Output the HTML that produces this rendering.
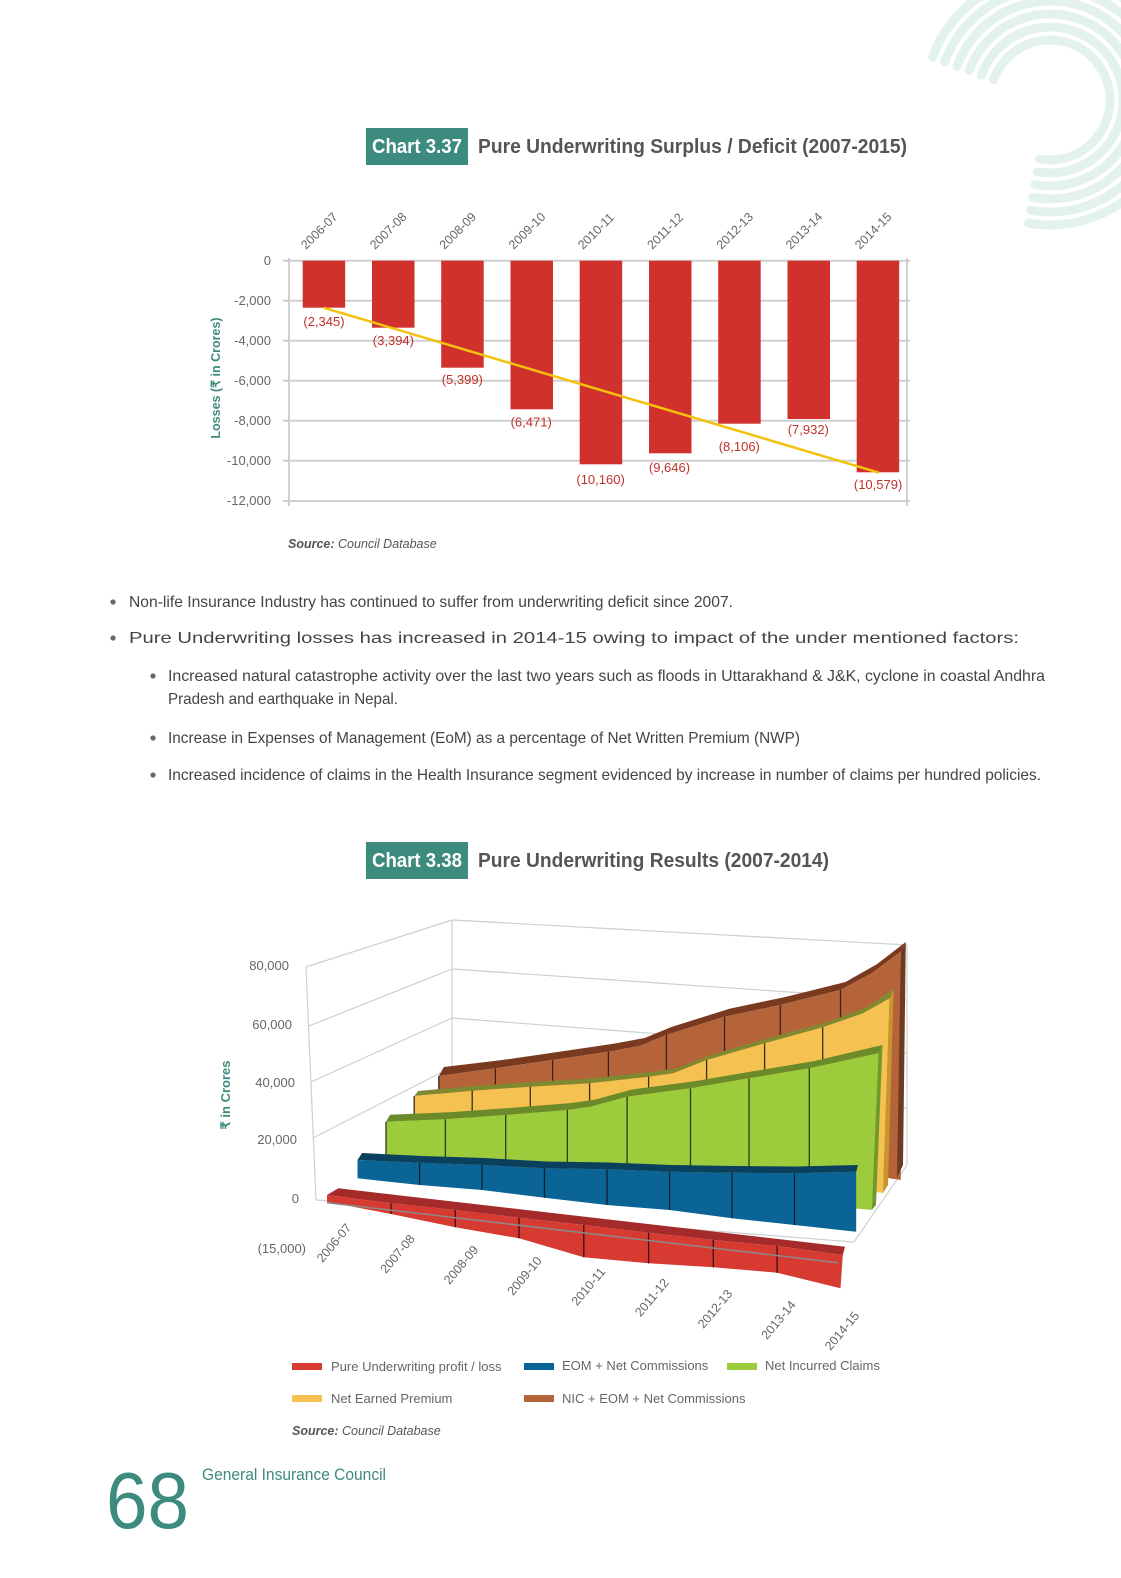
<!DOCTYPE html>
<html><head><meta charset="utf-8"><style>
html,body{margin:0;padding:0;background:#fff;}
svg{display:block;}
text{font-family:"Liberation Sans Narrow","Liberation Sans",sans-serif;}
</style></head><body>
<svg width="1121" height="1578" viewBox="0 0 1121 1578" xmlns="http://www.w3.org/2000/svg">
<g fill="none" stroke="#e4f2ec" stroke-width="9" stroke-linecap="round">
<path d="M 993.6 79.5 A 60 60 0 1 1 1039.6 159.1"/>
<path d="M 981.4 75.1 A 73 73 0 1 1 1037.3 171.9"/>
<path d="M 969.2 70.6 A 86 86 0 1 1 1035.1 184.7"/>
<path d="M 957.0 66.2 A 99 99 0 1 1 1032.8 197.5"/>
<path d="M 944.8 61.8 A 112 112 0 1 1 1030.6 210.3"/>
<path d="M 932.5 57.3 A 125 125 0 1 1 1028.3 223.1"/>
</g>

<rect x="366" y="128" width="102" height="37" fill="#3d8a7e"/>
<text x="417" y="153" text-anchor="middle" font-size="20" font-weight="bold" fill="#fff" textLength="90" lengthAdjust="spacingAndGlyphs">Chart 3.37</text>
<text x="478" y="153" font-size="20" font-weight="bold" fill="#555" textLength="429" lengthAdjust="spacingAndGlyphs">Pure Underwriting Surplus / Deficit (2007-2015)</text>

<g stroke="#cfcfcf" stroke-width="2">
<line x1="283" y1="260.7" x2="910" y2="260.7"/>
<line x1="283" y1="300.7" x2="910" y2="300.7"/>
<line x1="283" y1="340.7" x2="910" y2="340.7"/>
<line x1="283" y1="380.7" x2="910" y2="380.7"/>
<line x1="283" y1="420.7" x2="910" y2="420.7"/>
<line x1="283" y1="460.7" x2="910" y2="460.7"/>
<line x1="283" y1="501" x2="910" y2="501"/>
<line x1="289" y1="258" x2="289" y2="506"/>
<line x1="907" y1="258" x2="907" y2="506"/>
</g>
<g font-size="13" fill="#666" text-anchor="end">
<text x="271" y="265">0</text>
<text x="271" y="305">-2,000</text>
<text x="271" y="345">-4,000</text>
<text x="271" y="385">-6,000</text>
<text x="271" y="425">-8,000</text>
<text x="271" y="465">-10,000</text>
<text x="271" y="505">-12,000</text>
</g>
<text transform="translate(220,378) rotate(-90)" text-anchor="middle" font-size="12.5" font-weight="bold" fill="#3d8a7e">Losses (₹ in Crores)</text>
<g fill="#d0312d">
<rect x="302.7" y="260.7" width="42.5" height="47"/>
<rect x="372" y="260.7" width="42.5" height="67"/>
<rect x="441.2" y="260.7" width="42.5" height="107"/>
<rect x="510.5" y="260.7" width="42.5" height="148.6"/>
<rect x="579.7" y="260.7" width="42.5" height="203.6"/>
<rect x="649" y="260.7" width="42.5" height="192.6"/>
<rect x="718.2" y="260.7" width="42.5" height="163"/>
<rect x="787.5" y="260.7" width="42.5" height="158.3"/>
<rect x="856.7" y="260.7" width="42.5" height="211.6"/>
</g>
<line x1="323.6" y1="307.7" x2="879" y2="472.7" stroke="#f4c20d" stroke-width="2.5"/>
<g font-size="13" fill="#c0312b" text-anchor="middle">
<text x="324" y="326">(2,345)</text>
<text x="393.4" y="345">(3,394)</text>
<text x="462.3" y="384">(5,399)</text>
<text x="531.2" y="426.5">(6,471)</text>
<text x="600.6" y="484">(10,160)</text>
<text x="669.5" y="472">(9,646)</text>
<text x="739.3" y="451">(8,106)</text>
<text x="808.3" y="434">(7,932)</text>
<text x="878.1" y="489">(10,579)</text>
</g>
<g font-size="12.5" fill="#666">
<text transform="translate(306,250) rotate(-45)">2006-07</text>
<text transform="translate(375,250) rotate(-45)">2007-08</text>
<text transform="translate(444.5,250) rotate(-45)">2008-09</text>
<text transform="translate(513.8,250) rotate(-45)">2009-10</text>
<text transform="translate(583,250) rotate(-45)">2010-11</text>
<text transform="translate(652.3,250) rotate(-45)">2011-12</text>
<text transform="translate(721.5,250) rotate(-45)">2012-13</text>
<text transform="translate(790.8,250) rotate(-45)">2013-14</text>
<text transform="translate(860,250) rotate(-45)">2014-15</text>
</g>
<text x="288" y="548" font-size="12.5" font-style="italic" fill="#555"><tspan font-weight="bold">Source:</tspan> Council Database</text>

<g font-size="16" fill="#444">
<circle cx="113" cy="602" r="2.6" fill="#666"/>
<text x="129" y="607" textLength="604" lengthAdjust="spacingAndGlyphs">Non-life Insurance Industry has continued to suffer from underwriting deficit since 2007.</text>
<circle cx="113" cy="638" r="2.6" fill="#666"/>
<text x="129" y="643" textLength="890" lengthAdjust="spacingAndGlyphs">Pure Underwriting losses has increased in 2014-15 owing to impact of the under mentioned factors:</text>
<circle cx="153" cy="676" r="2.6" fill="#666"/>
<text x="168" y="681" textLength="877" lengthAdjust="spacingAndGlyphs">Increased natural catastrophe activity over the last two years such as floods in Uttarakhand &amp; J&amp;K, cyclone in coastal Andhra</text>
<text x="168" y="704" textLength="230" lengthAdjust="spacingAndGlyphs">Pradesh and earthquake in Nepal.</text>
<circle cx="153" cy="738" r="2.6" fill="#666"/>
<text x="168" y="743" textLength="632" lengthAdjust="spacingAndGlyphs">Increase in Expenses of Management (EoM) as a percentage of Net Written Premium (NWP)</text>
<circle cx="153" cy="775" r="2.6" fill="#666"/>
<text x="168" y="780" textLength="873" lengthAdjust="spacingAndGlyphs">Increased incidence of claims in the Health Insurance segment evidenced by increase in number of  claims per hundred policies.</text>
</g>

<rect x="366" y="842" width="102" height="37" fill="#3d8a7e"/>
<text x="417" y="867" text-anchor="middle" font-size="20" font-weight="bold" fill="#fff" textLength="90" lengthAdjust="spacingAndGlyphs">Chart 3.38</text>
<text x="478" y="867" font-size="20" font-weight="bold" fill="#555" textLength="351" lengthAdjust="spacingAndGlyphs">Pure Underwriting Results (2007-2014)</text>

<g stroke="#cfcfcf" stroke-width="1.2" fill="none">
<line x1="306" y1="967" x2="316" y2="1200"/>
<line x1="306" y1="967" x2="452" y2="920"/>
<line x1="309" y1="1026" x2="452" y2="969"/>
<line x1="311" y1="1082" x2="452" y2="1018"/>
<line x1="313" y1="1138" x2="452" y2="1067"/>
<line x1="452" y1="920" x2="452" y2="1116"/>
<line x1="452" y1="920" x2="907" y2="945"/>
<line x1="452" y1="969" x2="907" y2="1000"/>
<line x1="452" y1="1018" x2="907" y2="1053"/>
<line x1="452" y1="1067" x2="907" y2="1108"/>
<line x1="907" y1="945" x2="907" y2="1165"/>
<line x1="316" y1="1200" x2="854" y2="1242"/>
<line x1="854" y1="1242" x2="907" y2="1165"/>
</g>
<g font-size="13" fill="#666" text-anchor="end">
<text x="289" y="970">80,000</text>
<text x="292" y="1029">60,000</text>
<text x="295" y="1087">40,000</text>
<text x="297" y="1144">20,000</text>
<text x="299" y="1203">0</text>
<text x="306" y="1253">(15,000)</text>
</g>
<text transform="translate(230,1095) rotate(-90)" text-anchor="middle" font-size="13" font-weight="bold" fill="#3d8a7e">₹ in Crores</text>

<polygon fill="#7a3a20" points="438.8,1076 495.4,1068.3 552.6,1060 608.4,1051.7 639.6,1046 666.4,1035 724.5,1016.7 780.3,1005 840.5,990 871.8,973.3 900.8,951.7 905.8,942 876.8,964.3 845.5,982 785.3,997 729.5,1008.7 671.4,1027 644.6,1038 613.4,1043.7 557.6,1052 500.4,1060.3 443.8,1067"/>
<polygon fill="#b5643a" points="438.8,1076 495.4,1068.3 552.6,1060 608.4,1051.7 639.6,1046 666.4,1035 724.5,1016.7 780.3,1005 840.5,990 871.8,973.3 900.8,951.7 900.8,1180 438.8,1110"/>
<polygon fill="#6e3a22" points="900.8,951.7 905.8,942 903,1165 897,1178"/>
<g stroke="#3a2418" stroke-width="1.3">
<line x1="438.8" y1="1076" x2="438.8" y2="1110"/>
<line x1="495.4" y1="1068.3" x2="495.4" y2="1110"/>
<line x1="552.6" y1="1060" x2="552.6" y2="1110"/>
<line x1="608.4" y1="1051.7" x2="608.4" y2="1110"/>
<line x1="666.4" y1="1035" x2="666.4" y2="1110"/>
<line x1="724.5" y1="1016.7" x2="724.5" y2="1110"/>
<line x1="780.3" y1="1005" x2="780.3" y2="1110"/>
<line x1="840.5" y1="990" x2="840.5" y2="1110"/>
</g>
<polygon fill="#7f8a30" points="414.2,1096 472.2,1090.7 530.3,1086.7 589.6,1083.3 648.6,1076.7 673.1,1073.3 706.6,1060 764.6,1043.3 822.7,1027.3 862.9,1013.3 889.6,998.3 893.6,989 866.9,1007.3 826.7,1022.3 768.6,1038.3 710.6,1055 677.1,1068.3 652.6,1071.7 593.6,1078.3 534.3,1081.7 476.2,1085.7 418.2,1091"/>
<polygon fill="#f5c150" points="414.2,1096 472.2,1090.7 530.3,1086.7 589.6,1083.3 648.6,1076.7 673.1,1073.3 706.6,1060 764.6,1043.3 822.7,1027.3 862.9,1013.3 889.6,998.3 883,1193 414.2,1130"/>
<polygon fill="#c9962e" points="889.6,998.3 893.6,989 888,1185 883,1193"/>
<g stroke="#3a2e18" stroke-width="1.3">
<line x1="414.2" y1="1096" x2="414.2" y2="1130"/>
<line x1="472.2" y1="1090.7" x2="472.2" y2="1130"/>
<line x1="530.3" y1="1086.7" x2="530.3" y2="1130"/>
<line x1="589.6" y1="1083.3" x2="589.6" y2="1130"/>
<line x1="648.6" y1="1076.7" x2="648.6" y2="1130"/>
<line x1="706.6" y1="1060" x2="706.6" y2="1130"/>
<line x1="764.6" y1="1043.3" x2="764.6" y2="1130"/>
<line x1="822.7" y1="1027.3" x2="822.7" y2="1130"/>
</g>
<polygon fill="#6b8a2a" points="386,1121.7 445.4,1119.3 505.7,1115 567.3,1110 590.5,1106.7 627.1,1096.7 690.5,1088.3 749,1078.3 809.3,1068.3 878.5,1053.3 882.5,1045 813.3,1061.3 753,1071.3 694.5,1081.3 631.1,1089.7 594.5,1099.7 571.3,1103 509.7,1108 449.4,1112.3 390,1114.7"/>
<polygon fill="#9ccc3c" points="386,1121.7 445.4,1119.3 505.7,1115 567.3,1110 590.5,1106.7 627.1,1096.7 690.5,1088.3 749,1078.3 809.3,1068.3 878.5,1053.3 871.8,1210 386,1165"/>
<polygon fill="#6f9a2a" points="878.5,1053.3 882.5,1045 876,1205 871.8,1210"/>
<g stroke="#2e3a14" stroke-width="1.3">
<line x1="386" y1="1121.7" x2="386" y2="1165"/>
<line x1="445.4" y1="1119.3" x2="445.4" y2="1170"/>
<line x1="505.7" y1="1115" x2="505.7" y2="1170"/>
<line x1="567.3" y1="1110" x2="567.3" y2="1175"/>
<line x1="627.1" y1="1096.7" x2="627.1" y2="1175"/>
<line x1="690.5" y1="1088.3" x2="690.5" y2="1180"/>
<line x1="749" y1="1078.3" x2="749" y2="1180"/>
<line x1="809.3" y1="1068.3" x2="809.3" y2="1185"/>
</g>
<polygon fill="#0b3f5e" points="357.5,1160 419.6,1162.7 482,1165 544.5,1168.3 607,1169.3 669.6,1171.7 732,1172.7 794.5,1173.3 856.2,1171.7 858,1165 797,1166.5 734,1166 672,1165 609,1162.5 547,1161.5 484,1158 422,1156 362,1153"/>
<polygon fill="#0a6496" points="357.5,1160 419.6,1162.7 482,1165 544.5,1168.3 607,1169.3 669.6,1171.7 732,1172.7 794.5,1173.3 856.2,1171.7 856.2,1231.7 794.5,1225 732,1218.3 669.6,1210 607,1205 544.5,1197.7 482,1190 419.6,1185 357.5,1178.3"/>
<g stroke="#0a2030" stroke-width="1.3">
<line x1="419.6" y1="1162.7" x2="419.6" y2="1185"/>
<line x1="482" y1="1165" x2="482" y2="1190"/>
<line x1="544.5" y1="1168.3" x2="544.5" y2="1197.7"/>
<line x1="607" y1="1169.3" x2="607" y2="1205"/>
<line x1="669.6" y1="1171.7" x2="669.6" y2="1210"/>
<line x1="732" y1="1172.7" x2="732" y2="1218.3"/>
<line x1="794.5" y1="1173.3" x2="794.5" y2="1225"/>
</g>
<polygon fill="#a52a2a" points="327,1195 391,1203.3 455.3,1210 519,1217.7 583.8,1225 648.6,1232.7 713.3,1240 777.1,1246 842.8,1255 845,1246.7 338.3,1188.3"/>
<polygon fill="#d63a30" points="327,1195 391,1203.3 455.3,1210 519,1217.7 583.8,1225 648.6,1232.7 713.3,1240 777.1,1246 842.8,1255 840.5,1288.3 777.1,1272.7 713.3,1267.3 648.6,1263.3 583.8,1257.3 519,1238.3 455.3,1227.3 391,1214 327,1201.7"/>
<g stroke="#3a1010" stroke-width="1.3">
<line x1="391" y1="1203.3" x2="391" y2="1214"/>
<line x1="455.3" y1="1210" x2="455.3" y2="1227.3"/>
<line x1="519" y1="1217.7" x2="519" y2="1238.3"/>
<line x1="583.8" y1="1225" x2="583.8" y2="1257.3"/>
<line x1="648.6" y1="1232.7" x2="648.6" y2="1263.3"/>
<line x1="713.3" y1="1240" x2="713.3" y2="1267.3"/>
<line x1="777.1" y1="1246" x2="777.1" y2="1272.7"/>
</g>
<line x1="327" y1="1202.7" x2="838.3" y2="1262.7" stroke="#8a8a8a" stroke-width="1.5"/>

<g font-size="12.5" fill="#666" text-anchor="end">
<text transform="translate(352,1228) rotate(-50)">2006-07</text>
<text transform="translate(415.5,1239) rotate(-50)">2007-08</text>
<text transform="translate(479,1250) rotate(-50)">2008-09</text>
<text transform="translate(542.5,1261) rotate(-50)">2009-10</text>
<text transform="translate(606,1272) rotate(-50)">2010-11</text>
<text transform="translate(669.5,1283) rotate(-50)">2011-12</text>
<text transform="translate(733,1294) rotate(-50)">2012-13</text>
<text transform="translate(796.5,1305) rotate(-50)">2013-14</text>
<text transform="translate(860,1316) rotate(-50)">2014-15</text>
</g>

<rect x="292" y="1363" width="30" height="7" fill="#d63a30"/>
<text x="331" y="1371" font-size="13" fill="#666">Pure Underwriting profit / loss</text>
<rect x="524" y="1363" width="30" height="7" fill="#0a6496"/>
<text x="562" y="1370" font-size="13" fill="#666">EOM  + Net Commissions</text>
<rect x="727" y="1363" width="30" height="7" fill="#9ccc3c"/>
<text x="765" y="1370" font-size="13" fill="#666">Net Incurred Claims</text>
<rect x="292" y="1395" width="30" height="7" fill="#f5c150"/>
<text x="331" y="1403" font-size="13" fill="#666">Net Earned Premium</text>
<rect x="524" y="1395" width="30" height="7" fill="#b5643a"/>
<text x="562" y="1403" font-size="13" fill="#666">NIC + EOM + Net Commissions</text>
<text x="292" y="1435" font-size="12.5" font-style="italic" fill="#555"><tspan font-weight="bold">Source:</tspan> Council Database</text>

<text x="106" y="1528" font-size="80" fill="#3d8a7e" textLength="83" lengthAdjust="spacingAndGlyphs">68</text>
<text x="202" y="1480" font-size="17" fill="#3d8a7e" textLength="184" lengthAdjust="spacingAndGlyphs">General Insurance Council</text>
</svg>
</body></html>
